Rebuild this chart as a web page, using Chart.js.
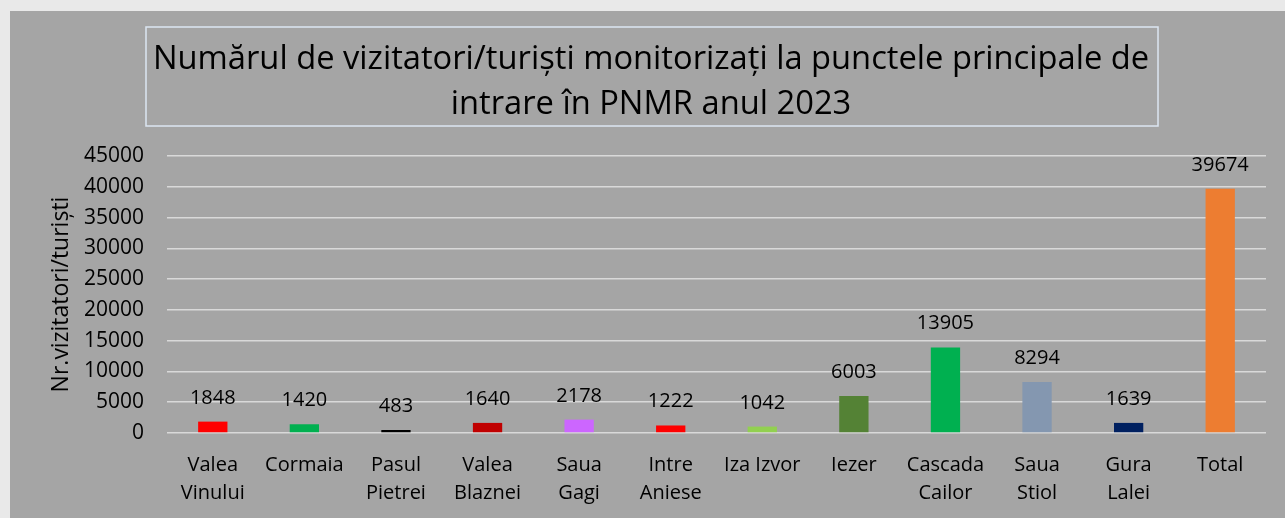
<!DOCTYPE html>
<html>
<head>
<meta charset="utf-8">
<script src="https://cdn.jsdelivr.net/npm/chart.js@4.4.1/dist/chart.umd.min.js"></script>
<style>
  html, body { margin: 0; padding: 0; background: #e9e9e9; }
  #wrap { position: absolute; left: 10px; top: 11px; width: 1275px; height: 507px; background: #a5a5a5; }
</style>
</head>
<body>
<div id="wrap"><canvas id="chart" width="1275" height="507"></canvas></div>
<script>
const labels = [
  ['Valea', 'Vinului'], 'Cormaia', ['Pasul', 'Pietrei'], ['Valea', 'Blaznei'],
  ['Saua', 'Gagi'], ['Intre', 'Aniese'], 'Iza Izvor', 'Iezer',
  ['Cascada', 'Cailor'], ['Saua', 'Stiol'], ['Gura', 'Lalei'], 'Total'
]
const visitors = [1848, 1420, 483, 1640, 2178, 1222, 1042, 6003, 13905, 8294, 1639, 39674]
const barColors = [
  '#ff0000', '#00b050', '#000000', '#c00000', '#cc66ff', '#ff0000',
  '#92d050', '#548235', '#00b050', '#8497b0', '#002060', '#ed7d31'
]
const titleLines = [
  'Numărul de vizitatori/turiști monitorizați la punctele principale de',
  'intrare în PNMR anul 2023'
]
const yTitle = 'Nr.vizitatori/turiști'

const FONT = "'Open Sans', sans-serif"

// values above the bars
const valueLabels = {
  id: 'valueLabels',
  afterDatasetsDraw(chart) {
    const ctx = chart.ctx
    const meta = chart.getDatasetMeta(0)
    ctx.save()
    ctx.font = '20px ' + FONT
    ctx.fillStyle = '#000'
    ctx.textAlign = 'center'
    ctx.textBaseline = 'alphabetic'
    meta.data.forEach((bar, i) => {
      ctx.fillText(String(visitors[i]), bar.x, bar.y - 18)
    })
    ctx.restore()
  }
}

// frame round the title
const titleFrame = {
  id: 'titleFrame',
  afterDraw(chart) {
    const ctx = chart.ctx
    ctx.save()
    ctx.strokeStyle = '#dce6f2'
    ctx.lineWidth = 1.5
    ctx.strokeRect(136, 16, 1012, 99)
    ctx.restore()
  }
}

new Chart(document.getElementById('chart'), {
  type: 'bar',
  data: {
    labels: labels,
    datasets: [{
      data: visitors,
      backgroundColor: barColors,
      barPercentage: 0.32,
      categoryPercentage: 1
    }]
  },
  options: {
    responsive: false,
    animation: false,
    layout: { padding: { left: 26, right: 19, top: 0, bottom: 0 } },
    plugins: {
      legend: { display: false },
      tooltip: { enabled: false },
      title: {
        display: true,
        text: titleLines,
        color: '#000',
        font: { family: FONT, size: 32.7, weight: 'normal', lineHeight: 1.376 },
        padding: { top: 26, bottom: 29 }
      }
    },
    scales: {
      x: {
        grid: { display: false, drawTicks: false },
        border: { display: false },
        ticks: {
          color: '#000',
          maxRotation: 0,
          autoSkip: false,
          padding: 18,
          font: { family: FONT, size: 20, lineHeight: 1.4 }
        },
        afterFit(scale) { scale.height = 85 }
      },
      y: {
        min: 0,
        max: 45000,
        grid: { color: '#d9d9d9', lineWidth: 1.5, drawTicks: false },
        border: { display: false },
        ticks: {
          stepSize: 5000,
          color: '#000',
          padding: 23,
          font: { family: FONT, size: 21 },
          callback: (v) => String(v)
        },
        title: {
          display: true,
          text: yTitle,
          color: '#000',
          font: { family: FONT, size: 23 },
          padding: { top: 12, bottom: 0 }
        },
        afterFit(scale) { scale.width = 131 }
      }
    }
  },
  plugins: [valueLabels, titleFrame]
})
</script>
</body>
</html>
